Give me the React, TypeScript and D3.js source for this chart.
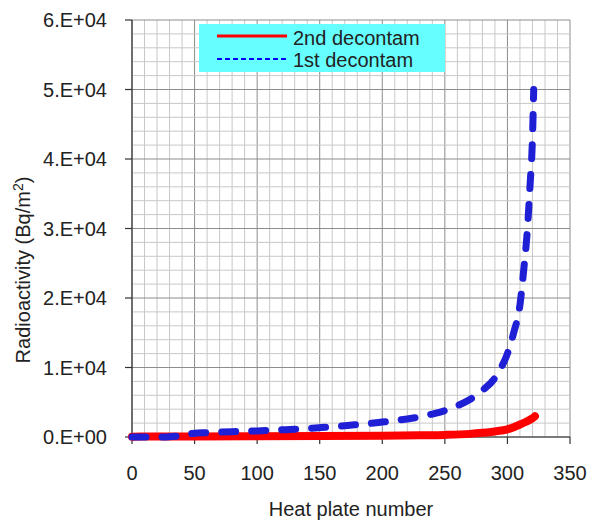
import React from 'react'
import * as d3 from 'd3'

// heat plate number vs. radioactivity (Bq/m2)
const PLATE_1ST = [0, 10, 20, 30, 40, 45, 50, 60, 70, 80, 90, 100, 110, 120, 130, 140, 150, 160, 170, 180, 190, 200, 210, 220, 230, 240, 250, 260, 270, 280, 290, 295, 300, 305, 310, 313, 316, 318, 320, 321]
const ACT_1ST = [0, 0, 0, 50, 200, 400, 550, 620, 700, 760, 820, 880, 950, 1030, 1120, 1230, 1350, 1480, 1620, 1780, 1950, 2150, 2350, 2600, 2900, 3300, 3800, 4500, 5400, 6700, 8500, 10000, 12000, 15000, 19000, 24000, 30000, 36000, 43000, 50000]

const PLATE_2ND = [0, 50, 100, 150, 200, 230, 250, 270, 280, 290, 300, 305, 310, 315, 320, 322]
const ACT_2ND = [50, 80, 100, 130, 180, 240, 300, 450, 600, 800, 1100, 1400, 1800, 2200, 2700, 3000]

const SERIES_NAMES = ['2nd decontam', '1st decontam']
const X_TICKS = [0, 50, 100, 150, 200, 250, 300, 350]
const Y_TICKS = [0, 10000, 20000, 30000, 40000, 50000, 60000]
const Y_TICK_LABELS = ['0.E+00', '1.E+04', '2.E+04', '3.E+04', '4.E+04', '5.E+04', '6.E+04']

const W = 589
const H = 520
const margin = { top: 20, right: 19, bottom: 83, left: 132 }
const FONT = '"Liberation Sans", Arial, sans-serif'

export default function App() {
  const x = d3.scaleLinear().domain([0, 350]).range([margin.left, W - margin.right])
  const y = d3.scaleLinear().domain([0, 60000]).range([H - margin.bottom, margin.top])

  const line = d3.line<[number, number]>()
    .x(d => x(d[0]))
    .y(d => y(d[1]))
    .curve(d3.curveMonotoneX)

  const red = line(PLATE_2ND.map((p, i) => [p, ACT_2ND[i]]))
  const blue = line(PLATE_1ST.map((p, i) => [p, ACT_1ST[i]]))

  const xGrid = d3.range(0, 351, 10)
  const yGrid = d3.range(0, 60001, 2000)
  const x0 = x(0), x1 = x(350), y0 = y(0), y1 = y(60000)

  return (
    <svg width={W} height={H} style={{ position: 'absolute', left: 0, top: 0 }} fontFamily={FONT}>
      <rect width={W} height={H} fill="#fff" />
      {/* grid */}
      {xGrid.map(v =>
        <line key={'gx' + v} x1={x(v)} x2={x(v)} y1={y1} y2={y0}
          stroke={v % 50 === 0 ? '#8c8c8c' : '#c8c8c8'} strokeWidth={1} />
      )}
      {yGrid.map(v =>
        <line key={'gy' + v} x1={x0} x2={x1} y1={y(v)} y2={y(v)}
          stroke={v % 10000 === 0 ? '#8c8c8c' : '#c8c8c8'} strokeWidth={1} />
      )}

      {/* axes */}
      <line x1={x0} x2={x0} y1={y1} y2={y0} stroke="#333" strokeWidth={1.2} />
      <line x1={x0} x2={x1} y1={y0} y2={y0} stroke="#333" strokeWidth={1.2} />
      {Y_TICKS.map((v, i) =>
        <g key={'yt' + v}>
          <line x1={x0 - 7} x2={x0} y1={y(v)} y2={y(v)} stroke="#333" strokeWidth={1.2} />
          <text x={107} y={y(v)} dy="0.35em" textAnchor="end" fontSize={20} fill="#222">{Y_TICK_LABELS[i]}</text>
        </g>
      )}
      {X_TICKS.map(v =>
        <g key={'xt' + v}>
          <line x1={x(v)} x2={x(v)} y1={y0} y2={y0 + 7} stroke="#333" strokeWidth={1.2} />
          <text x={x(v)} y={480} textAnchor="middle" fontSize={20} fill="#222">{v}</text>
        </g>
      )}

      {/* series */}
      <path d={red || ''} fill="none" stroke="#ff0000" strokeWidth={8} strokeLinecap="round" strokeLinejoin="round" />
      <path d={blue || ''} fill="none" stroke="#1f1fd6" strokeWidth={7} strokeDasharray="14,16" strokeLinecap="round" strokeLinejoin="round" />

      {/* axis titles */}
      <text x={(x0 + x1) / 2} y={516} textAnchor="middle" fontSize={20} fill="#222">Heat plate number</text>
      <text transform={`translate(30,${270}) rotate(-90)`} textAnchor="middle" fontSize={20} fill="#222">
        Radioactivity (Bq/m<tspan dy={-7} fontSize={14}>2</tspan><tspan dy={7}>)</tspan>
      </text>

      {/* legend */}
      <rect x={199} y={24} width={246} height={48} fill="#66ffff" />
      <line x1={217} x2={287} y1={36} y2={36} stroke="#ff0000" strokeWidth={3} />
      <text x={293} y={45} fontSize={20} fill="#222">{SERIES_NAMES[0]}</text>
      <line x1={217} x2={287} y1={59} y2={59} stroke="#0000ff" strokeWidth={2} strokeDasharray="5,3" />
      <text x={293} y={67} fontSize={20} fill="#222">{SERIES_NAMES[1]}</text>
    </svg>
  )
}
